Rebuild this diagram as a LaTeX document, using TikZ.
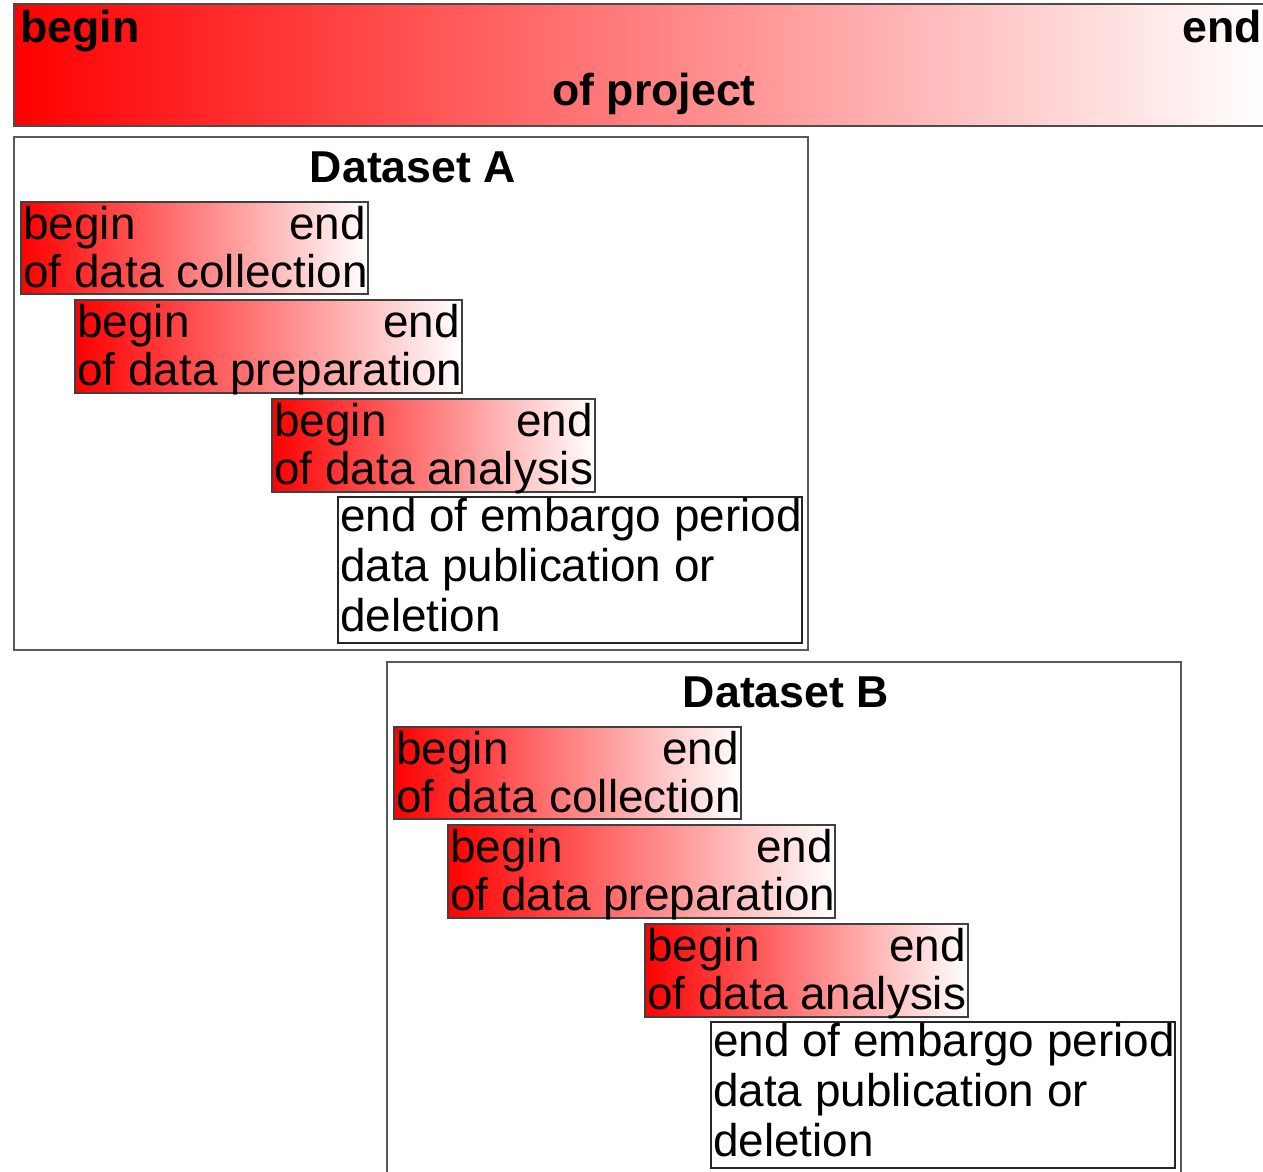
\documentclass[tikz,border=0pt]{standalone}
\usepackage{fontspec}
\setmainfont{Liberation Sans}
\usetikzlibrary{fit,calc}
\tikzset{
  gbox/.style={draw=black!75, line width=1.2pt, left color=red, right color=white, inner sep=0pt},
  dframe/.style={draw=black!65, line width=1.1pt, inner sep=0pt, fill=white},
  wbox/.style={draw=black!85, line width=1.6pt, inner sep=0pt, fill=white},
  txt/.style={inner sep=0pt, font=\fontsize{34.4}{36}\selectfont},
  btxt/.style={inner sep=0pt, font=\fontsize{33.5}{36}\selectfont\bfseries},
}
\newcommand\gradbox[6]{%
  \node[gbox, fit={(#2,#3) (#4,#5)}] (#1) {};
  \node[txt, anchor=base west] (#1-b) at ($(#1.north west)+(3,38)$) {begin};
  \node[txt, anchor=base east] (#1-e) at ($(#1.north east)+(-3,38)$) {end};
  \node[txt, anchor=base west] (#1-o) at ($(#1.north west)+(3,86)$) {#6};
}
\newcommand\dataset[2]{%
  \node[dframe, fit={(14,137) (808,650)}] (#1) {};
  \node[btxt, anchor=base] (#1-t) at (413,182) {#2};
  \gradbox{#1-col}{21}{202}{368}{294}{of data collection}
  \gradbox{#1-prep}{75}{300}{462}{393}{of data preparation}
  \gradbox{#1-ana}{272}{399}{595}{492}{of data analysis}
  \node[wbox, fit={(338,497) (802,643)}] (#1-emb) {};
  \node[txt, anchor=base west] (#1-emb1) at ($(#1-emb.north west)+(3,36)$) {end of embargo period};
  \node[txt, anchor=base west] (#1-emb2) at ($(#1-emb.north west)+(3,86)$) {data publication or};
  \node[txt, anchor=base west] (#1-emb3) at ($(#1-emb.north west)+(3,136)$) {deletion};
}
\begin{document}
\begin{tikzpicture}[x=0.75pt, y=-0.75pt]
  \useasboundingbox (0,0) rectangle (1263,1171);
  \clip (0,0) rectangle (1263,1171);
  \fill[white] (0,0) rectangle (1263,1171);
  % project bar
  \node[draw=black!70, line width=1.2pt, left color=red, right color=white, inner sep=0pt, fit={(14,4) (1266,126)}] (proj) {};
  \node[btxt, anchor=base west] (proj-b) at (20,42) {begin};
  \node[btxt, anchor=base east] (proj-e) at (1262,42) {end};
  \node[btxt, anchor=base] (proj-o) at (654,105) {of project};
  % datasets
  \dataset{A}{Dataset A}
  \begin{scope}[shift={(373,525)}]
    \dataset{B}{Dataset B}
  \end{scope}
\end{tikzpicture}
\end{document}
